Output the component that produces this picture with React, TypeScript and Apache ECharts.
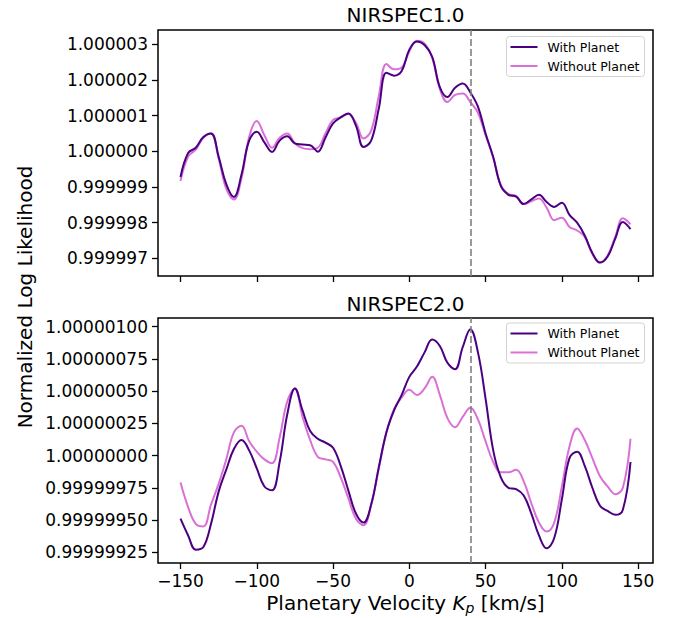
import React, { useEffect, useRef } from "react";
import * as echarts from "echarts";

// Planetary velocity grid (km/s)
const velocities = [
  -150, -145, -140, -135, -130, -125, -120, -115, -110, -105,
  -100, -95, -90, -85, -80, -75, -70, -65, -60, -55,
  -50, -45, -40, -35, -30, -25, -20, -15, -10, -5,
  0, 5, 10, 15, 20, 25, 30, 35, 40, 45,
  50, 55, 60, 65, 70, 75, 80, 85, 90, 95,
  100, 105, 110, 115, 120, 125, 130, 135, 140, 145,
];

// Normalized log likelihood, expressed as (value - 1) in units of 1e-6
const nirspec1With = [
  -0.72, -0.05, 0.1, 0.4, 0.5, -0.15, -0.92, -1.28, -0.65, 0.3,
  0.55, 0.25, -0.02, 0.3, 0.42, 0.22, 0.19, 0.17, -0.01, 0.38,
  0.78, 0.95, 1.06, 0.72, 0.12, 0.3, 1.2, 2.2, 2.12, 2.25,
  2.85, 3.08, 2.98, 2.65, 1.8, 1.52, 1.78, 1.9, 1.65, 1.25,
  0.5, -0.16, -0.97, -1.22, -1.27, -1.48, -1.35, -1.22, -1.42, -1.56,
  -1.44, -1.78, -2.0, -2.36, -2.85, -3.12, -2.95, -2.45, -1.98, -2.18,
];
const nirspec1Without = [
  -0.83, -0.15, 0.05, 0.38, 0.5, -0.2, -1.05, -1.35, -0.75, 0.4,
  0.85, 0.45, 0.1, 0.38, 0.5, 0.22, 0.09, 0.06, 0.1, 0.5,
  0.88, 0.95, 1.05, 0.8, 0.36, 0.58, 1.55, 2.45, 2.3, 2.35,
  2.8, 3.1, 3.02, 2.62, 1.75, 1.38, 1.58, 1.62, 1.38, 1.08,
  0.45, -0.18, -0.95, -1.2, -1.25, -1.48, -1.4, -1.32, -1.58, -1.93,
  -1.86, -2.12, -2.22, -2.4, -2.88, -3.12, -2.92, -2.4, -1.88, -2.05,
];
const nirspec2With = [
  -0.49, -0.62, -0.73, -0.71, -0.53, -0.28, -0.11, 0.05, 0.12, 0.04,
  -0.1, -0.24, -0.27, -0.05, 0.32, 0.52, 0.35, 0.19, 0.13, 0.1,
  0.06, -0.08, -0.27, -0.45, -0.52, -0.38, -0.09, 0.18, 0.35, 0.47,
  0.61, 0.69, 0.8, 0.9, 0.85, 0.72, 0.67, 0.84, 0.98, 0.8,
  0.44, 0.04, -0.17, -0.25, -0.26, -0.31, -0.45, -0.62, -0.72, -0.64,
  -0.34, -0.02, 0.03, -0.08, -0.25, -0.39, -0.43, -0.46, -0.42, -0.05,
];
const nirspec2Without = [
  -0.21, -0.4, -0.53, -0.55, -0.38, -0.22, -0.03, 0.18, 0.23, 0.11,
  0.03, -0.03, -0.06, 0.14, 0.42, 0.52, 0.3, 0.12, -0.01, -0.03,
  -0.05, -0.17, -0.33, -0.49, -0.54, -0.38, -0.1, 0.18, 0.36, 0.45,
  0.51, 0.47, 0.52, 0.61, 0.47, 0.29, 0.22, 0.3, 0.37, 0.28,
  0.11, -0.05, -0.13, -0.13, -0.11, -0.2, -0.37, -0.52, -0.59, -0.52,
  -0.24, 0.07, 0.21, 0.12, -0.02, -0.16, -0.24, -0.3, -0.25, 0.13,
];

const xTicks = [-150, -100, -50, 0, 50, 100, 150];
const yTicks1 = [-3, -2, -1, 0, 1, 2, 3];
const yTicks2 = [-0.75, -0.5, -0.25, 0, 0.25, 0.5, 0.75, 1.0];
const panelTitles = ["NIRSPEC1.0", "NIRSPEC2.0"];
const seriesNames = ["With Planet", "Without Planet"];
const planetKp = 40;

const FONT = "DejaVu Sans";
const DARK = "#4B0082";
const LIGHT = "#DA70D6";

const pairs = (ys: number[]) => velocities.map((x, i) => [x, ys[i]]);

export default function App() {
  const ref = useRef<HTMLDivElement>(null);

  useEffect(() => {
    if (!ref.current) return;
    const chart = echarts.init(ref.current, undefined, { renderer: "svg" });

    const gridL = 158;
    const gridW = 495;
    const grids = [
      { left: gridL, top: 30, width: gridW, height: 246 },
      { left: gridL, top: 318, width: gridW, height: 245 },
    ];

    const xAxisBase = (showLabels: boolean, gridIndex: number) => ({
      type: "value",
      gridIndex,
      min: -164.75,
      max: 159.75,
      axisLine: { show: false, onZero: false },
      splitLine: { show: false },
      axisTick: {
        show: true,
        inside: false,
        length: 6,
        customValues: xTicks,
        lineStyle: { color: "#000", width: 1.3 },
      },
      axisLabel: {
        show: showLabels,
        customValues: xTicks,
        formatter: (v: number) => String(v).replace("-", "\u2212"),
        fontSize: 17,
        fontFamily: FONT,
        color: "#000",
        margin: 9,
      },
    });

    const yAxisBase = (
      gridIndex: number,
      min: number,
      max: number,
      ticks: number[],
      digits: number
    ) => ({
      type: "value",
      gridIndex,
      min,
      max,
      axisLine: { show: false, onZero: false },
      splitLine: { show: false },
      axisTick: {
        show: true,
        inside: false,
        length: 6,
        customValues: ticks,
        lineStyle: { color: "#000", width: 1.3 },
      },
      axisLabel: {
        customValues: ticks,
        formatter: (v: number) => (1 + v * 1e-6).toFixed(digits),
        fontSize: 17,
        fontFamily: FONT,
        color: "#000",
        margin: 10,
      },
    });

    const lineSeries = (
      name: string,
      data: number[],
      color: string,
      idx: number,
      z: number,
      withMark: boolean
    ) => ({
      type: "line",
      name,
      xAxisIndex: idx,
      yAxisIndex: idx,
      data: pairs(data),
      smooth: 0.4,
      symbol: "none",
      showSymbol: false,
      color,
      z,
      lineStyle: { color, width: 2 },
      markLine: withMark
        ? {
            silent: true,
            symbol: ["none", "none"],
            label: { show: false },
            lineStyle: { color: "#808080", type: [7, 3], width: 1.6 },
            data: [{ xAxis: planetKp }],
          }
        : undefined,
    });

    const legendBase = (top: number) => ({
      orient: "vertical",
      left: 506.5,
      top,
      padding: [3, 5, 3, 4],
      itemWidth: 27,
      itemHeight: 2,
      itemGap: 4,
      icon: "rect",
      borderColor: "#d3d3d3",
      borderWidth: 1,
      borderRadius: 3,
      backgroundColor: "rgba(255,255,255,0.8)",
      selectedMode: false,
      data: seriesNames,
      textStyle: {
        fontSize: 12.5,
        fontFamily: FONT,
        color: "#000",
        lineHeight: 15,
        padding: [0, 0, 0, 5],
      },
    });

    chart.setOption({
      animation: false,
      backgroundColor: "#fff",
      grid: grids.map((g) => ({
        ...g,
        show: true,
        borderColor: "#000",
        borderWidth: 1.5,
        backgroundColor: "transparent",
      })),
      xAxis: [xAxisBase(false, 0), xAxisBase(true, 1)],
      yAxis: [
        yAxisBase(0, -3.496, 3.4, yTicks1, 6),
        yAxisBase(1, -0.8335, 1.0666, yTicks2, 8),
      ],
      legend: [legendBase(36.5), legendBase(323)],
      series: [
        lineSeries(seriesNames[0], nirspec1With, DARK, 0, 3, true),
        lineSeries(seriesNames[1], nirspec1Without, LIGHT, 0, 2, false),
        lineSeries(seriesNames[0], nirspec2With, DARK, 1, 3, true),
        lineSeries(seriesNames[1], nirspec2Without, LIGHT, 1, 2, false),
      ],
      graphic: [
        {
          type: "text",
          x: 405.5,
          y: 15,
          style: {
            text: panelTitles[0],
            fontSize: 20,
            fontFamily: FONT,
            fill: "#000",
            align: "center",
            verticalAlign: "middle",
          },
        },
        {
          type: "text",
          x: 405.5,
          y: 303.5,
          style: {
            text: panelTitles[1],
            fontSize: 20,
            fontFamily: FONT,
            fill: "#000",
            align: "center",
            verticalAlign: "middle",
          },
        },
        {
          type: "text",
          x: 25,
          y: 297,
          rotation: Math.PI / 2,
          style: {
            text: "Normalized Log Likelihood",
            fontSize: 20,
            fontFamily: FONT,
            fill: "#000",
            align: "center",
            verticalAlign: "middle",
          },
        },
        {
          type: "text",
          x: 405.5,
          y: 603,
          style: {
            text: "Planetary Velocity {k|K}{p|p} [km/s]",
            fontSize: 20,
            fontFamily: FONT,
            fill: "#000",
            align: "center",
            verticalAlign: "middle",
            lineHeight: 24,
            rich: {
              k: {
                fontSize: 20,
                fontFamily: FONT,
                fontStyle: "italic",
                fill: "#000",
                lineHeight: 24,
              },
              p: {
                fontSize: 14,
                fontFamily: FONT,
                fontStyle: "italic",
                fill: "#000",
                lineHeight: 14,
                verticalAlign: "bottom",
              },
            },
          },
        },
      ],
    });

    return () => chart.dispose();
  }, []);

  return (
    <div
      ref={ref}
      style={{ position: "fixed", left: 0, top: 0, width: 673, height: 618 }}
    />
  );
}
